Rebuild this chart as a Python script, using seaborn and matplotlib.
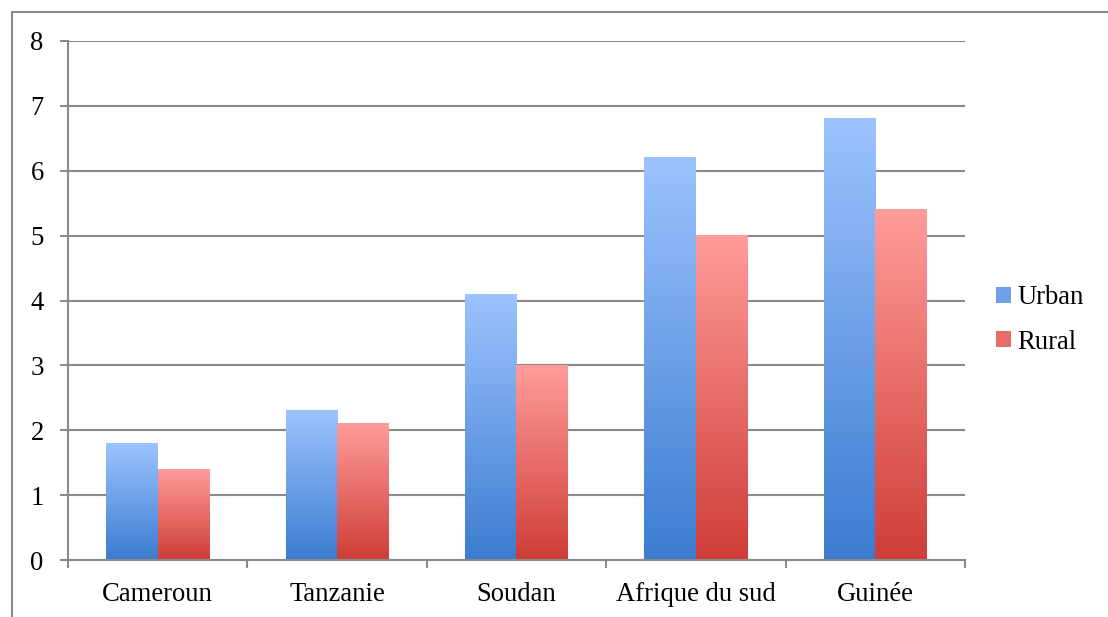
import numpy as np
import pandas as pd
import matplotlib
matplotlib.use("Agg")
import matplotlib.pyplot as plt
import seaborn as sns
from matplotlib.colors import LinearSegmentedColormap
from matplotlib.patches import Patch
from matplotlib.lines import Line2D

categories = ["Cameroun", "Tanzanie", "Soudan", "Afrique du sud", "Guinée"]
series_names = ["Urban", "Rural"]
urban = [1.8, 2.3, 4.1, 6.2, 6.8]
rural = [1.4, 2.1, 3.0, 5.0, 5.4]
y_ticks = [0, 1, 2, 3, 4, 5, 6, 7, 8]

grad_top = {"Urban": "#9cc3ff", "Rural": "#ff9c9a"}
grad_bot = {"Urban": "#3c7cd0", "Rural": "#cf3d37"}
mid = {"Urban": "#6fa0ea", "Rural": "#e86c68"}

df = pd.DataFrame({
    "country": categories * 2,
    "series": [series_names[0]] * len(categories) + [series_names[1]] * len(categories),
    "value": urban + rural,
})

sns.set_theme(style="white")
plt.rcParams["font.family"] = ["Liberation Serif", "DejaVu Serif"]
plt.rcParams["text.color"] = "black"
FS = 19.2

fig = plt.figure(figsize=(11.08, 6.17), dpi=100)
ax = fig.add_axes([68 / 1108, 1 - 560 / 617, (965 - 68) / 1108, (560 - 41) / 617])

sns.barplot(data=df, x="country", y="value", hue="series", order=categories,
            hue_order=series_names, palette=[mid[s] for s in series_names],
            width=0.575, ax=ax, legend=False, errorbar=None, saturation=1)

# gradient fill per bar
for container, name in zip(ax.containers, series_names):
    cmap = LinearSegmentedColormap.from_list(name, [grad_bot[name], grad_top[name]])
    grad = np.linspace(0, 1, 256).reshape(-1, 1)
    for bar in container:
        x0 = bar.get_x()
        w = bar.get_width()
        h = bar.get_height()
        ax.imshow(grad, cmap=cmap, origin="lower", aspect="auto",
                  extent=(x0, x0 + w, 0, h), zorder=3, interpolation="bicubic")
        bar.set_facecolor("none")
        bar.set_edgecolor("none")

ax.set_xlim(-0.5, len(categories) - 0.5)
ax.set_ylim(0, 8)
ax.set_yticks(y_ticks)
ax.set_yticklabels([str(t) for t in y_ticks], fontsize=FS, color="black")
ax.set_xticks(range(len(categories)))
ax.set_xticklabels(categories, fontsize=FS, color="black")
ax.set_xticks(np.arange(-0.5, len(categories), 1.0), minor=True)
ax.set_xlabel("")
ax.set_ylabel("")

gcol = "#8a8a8a"
ax.yaxis.grid(True, color=gcol, linewidth=1.5)
ax.set_axisbelow(True)
for s in ["top", "right"]:
    ax.spines[s].set_visible(False)
for s in ["left", "bottom"]:
    ax.spines[s].set_color(gcol)
    ax.spines[s].set_linewidth(1.5)
    ax.spines[s].set_zorder(4)
ax.tick_params(axis="y", which="major", direction="out", length=6, width=1.5,
               color=gcol, pad=11.5, left=True)
ax.tick_params(axis="x", which="major", length=0, pad=16, bottom=True)
ax.tick_params(axis="x", which="minor", direction="out", length=5.5, width=1.5,
               color=gcol, bottom=True)

handles = [Patch(facecolor=mid[s], edgecolor="none", label=s) for s in series_names]
leg = fig.legend(handles=handles, loc="center left", bbox_to_anchor=(996 / 1108, 1 - 320 / 617),
                 frameon=False, fontsize=FS, handlelength=0.55, handleheight=0.55,
                 handletextpad=0.25, labelspacing=0.72, borderpad=0, borderaxespad=0)
for t in leg.get_texts():
    t.set_color("black")

# outer frame (top and left)
fy = 1 - 12 / 617
fx = 12 / 1108
fig.add_artist(Line2D([fx, 1.0], [fy, fy], transform=fig.transFigure, color=gcol, linewidth=1.5))
fig.add_artist(Line2D([fx, fx], [0, fy], transform=fig.transFigure, color=gcol, linewidth=1.5))

fig.savefig("out.png", dpi=100)
